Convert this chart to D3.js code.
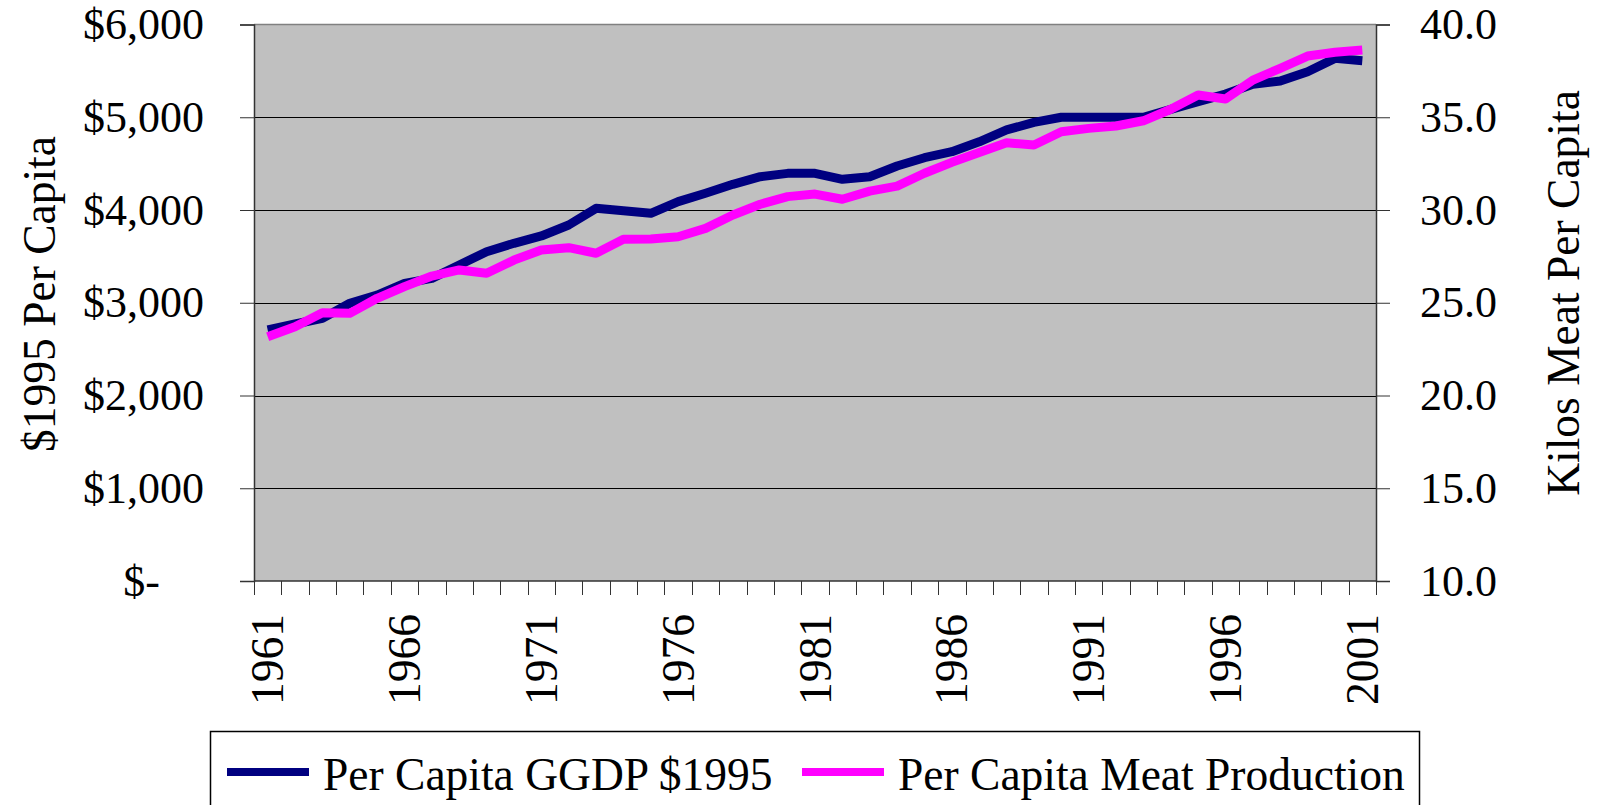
<!DOCTYPE html>
<html><head><meta charset="utf-8">
<script src="https://cdn.jsdelivr.net/npm/d3@7"></script>
<style>
html,body{margin:0;padding:0;background:#fff;}
svg{display:block;}
text{font-family:"Liberation Serif","Times New Roman",serif;fill:#000;}
</style></head><body>
<svg id="chart" width="1602" height="805"></svg>
<script>
const years = d3.range(1961, 2002).map(String);
const gdp = [2706,2771,2832,2994,3083,3209,3263,3407,3550,3641,3720,3838,4018,3993,3964,4090,4180,4277,4359,4395,4395,4331,4359,4474,4564,4629,4735,4863,4945,5000,5000,5000,5000,5085,5168,5250,5355,5391,5491,5635,5610];
const meat = [23.17,23.71,24.46,24.43,25.24,25.87,26.44,26.77,26.59,27.30,27.84,27.97,27.67,28.42,28.44,28.56,29.01,29.73,30.31,30.72,30.86,30.58,31.02,31.29,31.98,32.57,33.10,33.63,33.50,34.22,34.40,34.53,34.81,35.43,36.20,35.98,37.00,37.64,38.30,38.50,38.62];
const leftTicks = [0,1000,2000,3000,4000,5000,6000];
const rightTicks = [10,15,20,25,30,35,40];
const labelYears = ["1961","1966","1971","1976","1981","1986","1991","1996","2001"];
const seriesNames = ["Per Capita GGDP $1995","Per Capita Meat Production"];
const seriesColors = ["#000080","#FF00FF"];

const L = 254, R = 1376, T = 24.5, B = 581;
const svg = d3.select("#chart");
const x = d3.scaleBand().domain(years).range([L, R]).padding(0);
const yL = d3.scaleLinear().domain([0, 6000]).range([B, T]);
const yR = d3.scaleLinear().domain([10, 40]).range([B, T]);
const FS = 44, FS2 = 45.5;

// plot area
svg.append("rect").attr("x", L).attr("y", T).attr("width", R - L).attr("height", B - T).attr("fill", "#C0C0C0");
// gridlines
svg.append("g").selectAll("line").data(leftTicks.filter(d => d > 0 && d < 6000)).join("line")
  .attr("x1", L).attr("x2", R).attr("y1", d => Math.round(yL(d)) + 0.5).attr("y2", d => Math.round(yL(d)) + 0.5)
  .attr("stroke", "#000").attr("stroke-width", 1);
// top border
svg.append("line").attr("x1", L).attr("x2", R).attr("y1", T).attr("y2", T).attr("stroke", "#808080").attr("stroke-width", 1.5);

// left axis
const fmtL = d => d === 0 ? "$-" : "$" + d3.format(",")(d);
const gL = svg.append("g").attr("transform", `translate(${L},0)`)
  .call(d3.axisLeft(yL).tickValues(leftTicks).tickSize(14).tickPadding(36).tickFormat(fmtL));
gL.select(".domain").attr("stroke", "#333").attr("stroke-width", 1.5);
gL.selectAll(".tick line").attr("stroke", "#333");
gL.selectAll(".tick text").attr("font-size", FS).attr("font-family", "Liberation Serif").attr("fill", "#000")
  .attr("dx", d => d === 0 ? -44 : 0);

// right axis
const gR = svg.append("g").attr("transform", `translate(${R},0)`)
  .call(d3.axisRight(yR).tickValues(rightTicks).tickSize(14).tickPadding(30).tickFormat(d3.format(".1f")));
gR.select(".domain").attr("stroke", "#333").attr("stroke-width", 1.5);
gR.selectAll(".tick line").attr("stroke", "#333");
gR.selectAll(".tick text").attr("font-size", FS).attr("font-family", "Liberation Serif").attr("fill", "#000");

// bottom axis: ticks at category boundaries
const bounds = years.map(y => x(y)).concat([R]);
const gB = svg.append("g");
gB.append("line").attr("x1", L).attr("x2", R).attr("y1", B).attr("y2", B).attr("stroke", "#333").attr("stroke-width", 1.5);
gB.selectAll("line.tk").data(bounds).join("line").attr("class", "tk")
  .attr("x1", d => Math.round(d) + 0.5).attr("x2", d => Math.round(d) + 0.5).attr("y1", B).attr("y2", B + 14)
  .attr("stroke", "#333").attr("stroke-width", 1);
gB.selectAll("text").data(labelYears).join("text")
  .attr("transform", d => `translate(${x(d) + x.bandwidth() / 2 + 15.5},614) rotate(-90)`)
  .attr("text-anchor", "end").attr("font-size", FS2).text(d => d);

// lines
const cx = d => x(d) + x.bandwidth() / 2;
const lineL = d3.line().x((d, i) => cx(years[i])).y(d => yL(d));
const lineR = d3.line().x((d, i) => cx(years[i])).y(d => yR(d));
svg.append("path").datum(gdp).attr("d", lineL).attr("fill", "none").attr("stroke", seriesColors[0])
  .attr("stroke-width", 9).attr("stroke-linejoin", "round");
svg.append("path").datum(meat).attr("d", lineR).attr("fill", "none").attr("stroke", seriesColors[1])
  .attr("stroke-width", 9).attr("stroke-linejoin", "round");

// axis titles
svg.append("text").attr("transform", "translate(55,294) rotate(-90)").attr("text-anchor", "middle")
  .attr("font-size", FS2).text("$1995 Per Capita");
svg.append("text").attr("transform", "translate(1579,293) rotate(-90)").attr("text-anchor", "middle")
  .attr("font-size", FS2).text("Kilos Meat Per Capita");

// legend
const lg = svg.append("g");
lg.append("rect").attr("x", 210.5).attr("y", 731.5).attr("width", 1209).attr("height", 120)
  .attr("fill", "#fff").attr("stroke", "#000").attr("stroke-width", 1.5);
const legX = [[227, 323], [802, 898]];
seriesNames.forEach((n, i) => {
  lg.append("line").attr("x1", legX[i][0]).attr("x2", legX[i][0] + 82).attr("y1", 772).attr("y2", 772)
    .attr("stroke", seriesColors[i]).attr("stroke-width", 8);
  lg.append("text").attr("x", legX[i][1]).attr("y", 790).attr("font-size", FS2).text(n);
});
</script>
</body></html>
